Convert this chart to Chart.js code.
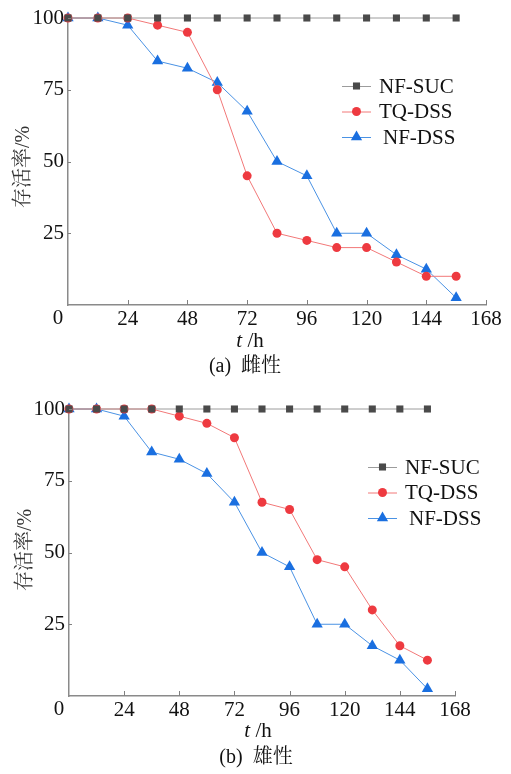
<!DOCTYPE html>
<html>
<head>
<meta charset="utf-8">
<script src="https://cdn.jsdelivr.net/npm/chart.js@4/dist/chart.umd.min.js"></script>
<style>
  html, body { margin: 0; padding: 0; background: #fff; }
  body { width: 511px; height: 774px; position: relative; overflow: hidden; }
  .box { position: absolute; left: 0; width: 511px; }
</style>
</head>
<body>
<div class="box" style="top:0;height:385px"><canvas id="chartA"></canvas></div>
<div class="box" style="top:390px;height:384px"><canvas id="chartB"></canvas></div>
<script>
// --- Data ---
const hours = [0, 12, 24, 36, 48, 60, 72, 84, 96, 108, 120, 132, 144, 156];
const seriesNames = ['NF-SUC', 'TQ-DSS', 'NF-DSS'];

// (a) female
const sucA = [100, 100, 100, 100, 100, 100, 100, 100, 100, 100, 100, 100, 100, 100];
const tqA  = [100, 100, 100, 97.5, 95, 75, 45, 25, 22.5, 20, 20, 15, 10, 10];
const nfA  = [100, 100, 97.5, 85, 82.5, 77.5, 67.5, 50, 45, 25, 25, 17.5, 12.5, 2.5];

// (b) male
const sucB = [100, 100, 100, 100, 100, 100, 100, 100, 100, 100, 100, 100, 100, 100];
const tqB  = [100, 100, 100, 100, 97.5, 95, 90, 67.5, 65, 47.5, 45, 30, 17.5, 12.5];
const nfB  = [100, 100, 97.5, 85, 82.5, 77.5, 67.5, 50, 45, 25, 25, 17.5, 12.5, 2.5];

const captionA = '(a)  雌性';
const captionB = '(b)  雄性';
const yTitle = '存活率/%';

const SERIF = '"Liberation Serif", "Noto Serif CJK SC", serif';
const styles = [
  { line: '#9c9c9c', fill: '#4a4a4a', pointStyle: 'rect', radius: 5 },
  { line: '#f27878', fill: '#ee3a40', pointStyle: 'circle', radius: 4.5 },
  { line: '#4a92e4', fill: '#1a6fe0', pointStyle: 'triangle', radius: 6.5 },
];

function drawMarker(ctx, style, x, y) {
  ctx.fillStyle = style.fill;
  ctx.beginPath();
  const r = style.radius;
  if (style.pointStyle === 'rect') {
    const s = r * Math.SQRT1_2;
    ctx.rect(x - s, y - s, 2 * s, 2 * s);
  } else if (style.pointStyle === 'circle') {
    ctx.arc(x, y, r, 0, Math.PI * 2);
  } else {
    ctx.moveTo(x, y - r);
    ctx.lineTo(x + r * 0.866, y + r * 0.5);
    ctx.lineTo(x - r * 0.866, y + r * 0.5);
    ctx.closePath();
  }
  ctx.fill();
}

// titles, inward tick marks, origin label and in-plot legend
const figurePlugin = {
  id: 'figureText',
  afterDraw(chart, args, opts) {
    const { ctx, chartArea, scales } = chart;
    ctx.save();
    // inward tick marks
    ctx.strokeStyle = '#808080';
    ctx.lineWidth = 1;
    scales.x.ticks.forEach(t => {
      if (t.value === 0) return;
      const px = Math.round(scales.x.getPixelForValue(t.value)) + 0.5;
      ctx.beginPath();
      ctx.moveTo(px, chartArea.bottom);
      ctx.lineTo(px, chartArea.bottom - 5);
      ctx.stroke();
    });
    scales.y.ticks.forEach(t => {
      if (t.value === 0) return;
      const py = Math.round(scales.y.getPixelForValue(t.value)) + 0.5;
      ctx.beginPath();
      ctx.moveTo(chartArea.left, py);
      ctx.lineTo(chartArea.left + 3, py);
      ctx.stroke();
    });

    ctx.fillStyle = '#111';
    ctx.textBaseline = 'middle';
    // shared origin label, sits left of the axis corner
    ctx.textAlign = 'center';
    ctx.font = '21px ' + SERIF;
    ctx.fillText('0', scales.x.getPixelForValue(0) - 10, chartArea.bottom + 13);

    // x title: italic t
    ctx.font = 'italic 21px ' + SERIF;
    const tW = ctx.measureText('t').width;
    ctx.font = '21px ' + SERIF;
    const hW = ctx.measureText(' /h').width;
    const sx = opts.xTitleX - (tW + hW) / 2;
    ctx.textAlign = 'left';
    ctx.font = 'italic 21px ' + SERIF;
    ctx.fillText('t', sx, opts.xTitleY);
    ctx.font = '21px ' + SERIF;
    ctx.fillText(' /h', sx + tW, opts.xTitleY);
    // caption
    ctx.textAlign = 'center';
    ctx.font = '20px ' + SERIF;
    ctx.fillText(opts.caption, opts.captionX, opts.captionY);
    // y title
    ctx.save();
    ctx.translate(opts.yTitleX, opts.yTitleY);
    ctx.rotate(-Math.PI / 2);
    ctx.fillStyle = '#333';
    ctx.font = '20px ' + SERIF;
    ctx.fillText(yTitle, 0, 0);
    ctx.restore();

    // legend
    chart.data.datasets.forEach((ds, i) => {
      const st = styles[i];
      const y = opts.legendY + i * 25.5;
      ctx.strokeStyle = st.line;
      ctx.lineWidth = 1;
      ctx.beginPath();
      ctx.moveTo(opts.legendX, y + 0.5);
      ctx.lineTo(opts.legendX + 29, y + 0.5);
      ctx.stroke();
      drawMarker(ctx, st, opts.legendX + 14.5, y);
      ctx.fillStyle = '#111';
      ctx.textAlign = 'left';
      ctx.font = '21px ' + SERIF;
      ctx.fillText(ds.label, opts.legendX + 37 + (i === 2 ? 4 : 0), y + 1);
    });
    ctx.restore();
  }
};

function makeChart(id, suc, tq, nf, layout) {
  const sets = [suc, tq, nf].map((vals, i) => ({
    label: seriesNames[i],
    data: hours.map((h, k) => ({ x: h, y: vals[k] })),
    borderColor: styles[i].line,
    backgroundColor: styles[i].fill,
    pointBackgroundColor: styles[i].fill,
    pointBorderColor: styles[i].fill,
    pointBorderWidth: 0,
    pointStyle: styles[i].pointStyle,
    pointRadius: styles[i].radius,
    borderWidth: 1,
    tension: 0,
    clip: false,
  }));

  return new Chart(document.getElementById(id), {
    type: 'line',
    data: { datasets: sets },
    options: {
      responsive: true,
      maintainAspectRatio: false,
      animation: false,
      events: [],
      layout: { padding: { top: layout.top, right: layout.right, left: 0, bottom: 0 } },
      plugins: {
        legend: { display: false },
        tooltip: { enabled: false },
        figureText: layout,
      },
      scales: {
        x: {
          type: 'linear',
          min: 0, max: 168,
          ticks: {
            stepSize: 24, padding: 2, color: '#111', font: { family: SERIF, size: 21 },
            callback: v => (v === 0 ? '' : v),
          },
          grid: { drawOnChartArea: false, drawTicks: false },
          border: { color: '#8a8a8a', width: 1.5 },
          afterFit(scale) { scale.height = layout.xHeight; },
        },
        y: {
          min: 0, max: 100,
          ticks: {
            stepSize: 25, padding: 4, color: '#111', font: { family: SERIF, size: 21 },
            callback: v => (v === 0 ? '' : v),
          },
          grid: { drawOnChartArea: false, drawTicks: false },
          border: { color: '#8a8a8a', width: 1.5 },
          afterFit(scale) { scale.width = layout.yWidth; },
        },
      },
    },
    plugins: [figurePlugin],
  });
}

makeChart('chartA', sucA, tqA, nfA, {
  top: 18, right: 25, yWidth: 68, xHeight: 80,
  xTitleX: 250, xTitleY: 341, caption: captionA, captionX: 245, captionY: 367,
  yTitleX: 24, yTitleY: 167, legendX: 342, legendY: 86,
});
makeChart('chartB', sucB, tqB, nfB, {
  top: 19, right: 56, yWidth: 69, xHeight: 78,
  xTitleX: 258, xTitleY: 341, caption: captionB, captionX: 256, captionY: 368,
  yTitleX: 26, yTitleY: 160, legendX: 368, legendY: 77,
});
</script>
</body>
</html>
